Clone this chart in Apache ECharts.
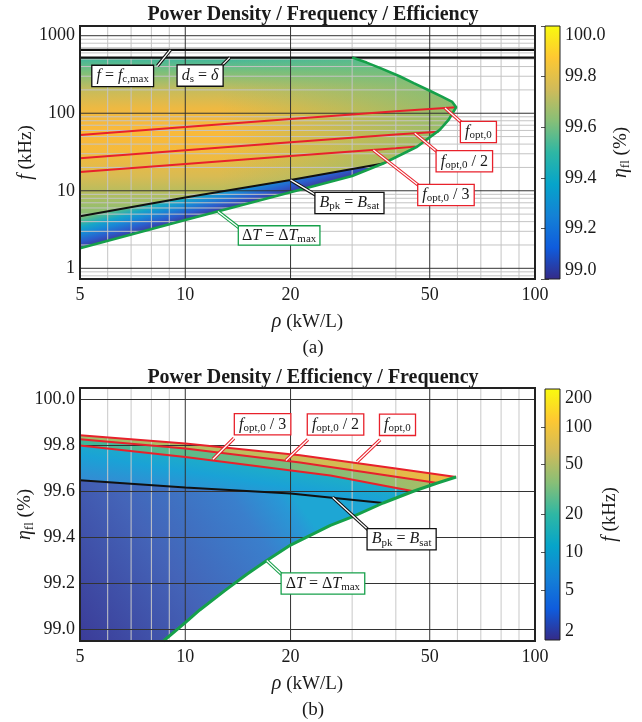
<!DOCTYPE html>
<html>
<head>
<meta charset="utf-8">
<title>Power Density / Frequency / Efficiency</title>
<script src="https://cdn.jsdelivr.net/npm/echarts@6/dist/echarts.min.js"></script>
<style>
  html, body { margin: 0; background: #fff; }
  #chart { width: 642px; height: 722px; }
</style>
</head>
<body>
<div id="chart"></div>
<script>
// ---------- axes ----------
var rhoMin = 5, rhoMax = 100;
var rhoLabels = [5, 10, 20, 50, 100];
var rhoMajor = [10, 20, 50];
var rhoMinor = [6, 7, 8, 9, 30, 40, 60, 70, 80, 90];

var fMin = 0.728, fMax = 1334;
var fLabels = [1, 10, 100, 1000];
var fMajor = [1, 10, 100, 1000];
var fMinor = [0.8, 0.9, 2, 3, 4, 5, 6, 7, 8, 9, 20, 30, 40, 50, 60, 70, 80, 90,
              200, 300, 400, 500, 600, 700, 800, 900];

var etaMin = 98.95, etaMax = 100.05;
var etaLabels = [99.0, 99.2, 99.4, 99.6, 99.8, 100.0];

var cbEtaMin = 99, cbEtaMax = 100;
var cbFMin = 2, cbFMax = 200;
var cbFLabels = [2, 5, 10, 20, 50, 100, 200];
var cbFTicks = [5, 10, 20, 50, 100];

// ---------- (a) rho [kW/L] vs f [kHz] ----------
var topFcMax = [[5, 656], [100, 656]];
var topDs = [[5, 522], [100, 522]];
var topFopt = [[5, 52.5], [10, 66.5], [20, 84.4], [40, 106], [59.5, 119.5]];
var topFopt2 = [[5, 26.3], [10, 33.3], [20, 42.2], [40, 53], [53, 57.9]];
var topFopt3 = [[5, 17.5], [10, 22.2], [20, 28.1], [40, 35.3], [45.4, 37.1]];
var topBpk = [[5, 4.7], [10, 8.2], [20, 13.8], [36.8, 22.5]];
var topUpper = [[30, 522], [33, 450], [36, 385], [41, 300], [45, 245], [50, 195], [54, 165], [58, 140], [59.5, 119.5]];
var topLower = [[5, 1.81], [10, 4.2], [20, 9.6], [26, 13.1], [30, 15.5], [36.8, 22.5], [46, 37], [53.4, 61], [56.6, 82], [59.5, 119.5]];

// ---------- (b) rho [kW/L] vs eta [%] ----------
var botFopt = [[5, 99.845], [10, 99.809], [21.3, 99.758], [40, 99.70], [59.5, 99.663]];
var botFopt2 = [[5, 99.827], [10, 99.787], [21.3, 99.726], [40, 99.664], [52.6, 99.637]];
var botFopt3 = [[5, 99.80], [10, 99.75], [26, 99.67], [44.9, 99.601]];
var botBpk = [[5, 99.649], [10, 99.617], [20, 99.591], [36.8, 99.55]];
var botLower = [[8.66, 98.95], [10, 99.03], [11, 99.085], [13, 99.17], [15, 99.24], [17.1, 99.30], [20, 99.367],
                [26, 99.453], [30, 99.49], [36.8, 99.55], [44.9, 99.601], [52.6, 99.637], [59.5, 99.663]];

var serif = "'Liberation Serif', 'Times New Roman', serif";
var INK = '#1a1a1a', RED = '#e8212b', GREEN = '#16a04a', BLACK = '#111';

var parula = [
  { offset: 0, color: '#352a87' }, { offset: 0.125, color: '#0f5cdd' },
  { offset: 0.25, color: '#1481d6' }, { offset: 0.375, color: '#06a4ca' },
  { offset: 0.5, color: '#2eb7a4' }, { offset: 0.625, color: '#87bf77' },
  { offset: 0.75, color: '#d1bb59' }, { offset: 0.875, color: '#fec832' },
  { offset: 1, color: '#f9fb0e' }
];

function stops(list) {
  return list.map(function (s) { return { offset: s[0], color: s[1] }; });
}
function linGrad(api, p0, p1, st) {
  var a = api.coord(p0), b = api.coord(p1);
  return new echarts.graphic.LinearGradient(a[0], a[1], b[0], b[1], stops(st), true);
}
function rev(a) { return a.slice().reverse(); }
function upTo(a, x) { return a.filter(function (p) { return p[0] <= x + 1e-9; }); }
function from(a, x) { return a.filter(function (p) { return p[0] >= x - 1e-9; }); }

// polygons built from the curves
var bpkEndTop = topBpk[topBpk.length - 1][0];
var topBandU = [[rhoMin, topUpper[0][1]]].concat(topUpper, rev(from(topLower, bpkEndTop)), rev(topBpk));
var topBandL = topBpk.concat(rev(upTo(topLower, bpkEndTop)));
var topGreen = topUpper.concat(rev(topLower));

var botBandA = botFopt.concat(rev(botFopt2));
var botBandB = botFopt2.concat(rev(botFopt3));
var botBandC = botFopt3.concat([botBpk[botBpk.length - 1]], rev(botBpk));
var botBandD = botBpk.concat(rev(upTo(botLower, botBpk[botBpk.length - 1][0])), [[rhoMin, etaMin]]);

var noteRich = {
  i: { fontFamily: serif, fontStyle: 'italic', fontSize: 16, fill: INK },
  s: { fontFamily: serif, fontSize: 11, fill: INK, padding: [7, 0, 0, 0] }
};
var axisRich = {
  i: { fontFamily: serif, fontStyle: 'italic', fontSize: 20, color: INK },
  s: { fontFamily: serif, fontSize: 13, color: INK, padding: [9, 0, 0, 0] }
};

var topNotes = [
  { at: [9.07, 656], box: [-78, 16], lead: [-13, 16], color: BLACK, text: '{i|f} = {i|f}{s|c,max}' },
  { at: [13.4, 522], box: [-52, 8], lead: [-8, 8], color: BLACK, text: '{i|d}{s|s} = {i|δ}' },
  { at: [20, 13.8], box: [25, 13], lead: [25, 15], color: BLACK, text: '{i|B}{s|pk} = {i|B}{s|sat}' },
  { at: [12.4, 5.42], box: [21, 15], lead: [22, 17], color: GREEN, pad: [0, 3, 0, 3], text: 'Δ{i|T} = Δ{i|T}{s|max}' },
  { at: [55.3, 116.9], box: [16, 14], lead: [17, 15], color: RED, text: '{i|f}{s|opt,0}' },
  { at: [45.3, 55.1], box: [22, 18], lead: [23, 19], color: RED, text: '{i|f}{s|opt,0} / 2' },
  { at: [34.5, 33.6], box: [45, 35], lead: [46, 36], color: RED, text: '{i|f}{s|opt,0} / 3' }
];
var botNotes = [
  { at: [12, 99.74], box: [22, -45], lead: [21, -21], color: RED, text: '{i|f}{s|opt,0} / 3' },
  { at: [19.4, 99.735], box: [22, -46], lead: [22, -21], color: RED, text: '{i|f}{s|opt,0} / 2' },
  { at: [31, 99.729], box: [23, -47], lead: [23, -22], color: RED, text: '{i|f}{s|opt,0}' },
  { at: [26.4, 99.575], box: [35, 32], lead: [36, 33], color: BLACK, text: '{i|B}{s|pk} = {i|B}{s|sat}' },
  { at: [17.1, 99.30], box: [15, 13], lead: [15, 14], color: GREEN, text: 'Δ{i|T} = Δ{i|T}{s|max}' }
];

// ---------- series helpers ----------
function fillSeries(idx, pts, grad) {
  return {
    type: 'custom', xAxisIndex: idx, yAxisIndex: idx, z: 1, silent: true,
    data: [pts[0]],
    renderItem: function (params, api) {
      return {
        type: 'polygon',
        shape: { points: pts.map(function (p) { return api.coord(p); }) },
        style: { fill: grad(api), stroke: null }
      };
    }
  };
}
function gridLines(idx, values, dir, color, width) {
  return {
    type: 'custom', xAxisIndex: idx, yAxisIndex: idx, z: 3, silent: true,
    data: values.map(function (v) { return [v, v]; }),
    renderItem: function (params, api) {
      var cs = params.coordSys;
      var p = api.coord([api.value(0), api.value(1)]);
      var shape = dir === 'x'
        ? { x1: p[0], y1: cs.y, x2: p[0], y2: cs.y + cs.height }
        : { x1: cs.x, y1: p[1], x2: cs.x + cs.width, y2: p[1] };
      return { type: 'line', shape: shape, style: { stroke: color, lineWidth: width } };
    }
  };
}
function frame(idx, width, fillGrad) {
  return {
    type: 'custom', xAxisIndex: idx, yAxisIndex: idx, z: fillGrad ? 2 : 7, silent: true,
    data: [[0, 0]],
    renderItem: function (params, api) {
      var cs = params.coordSys;
      return {
        type: 'rect',
        shape: { x: cs.x, y: cs.y, width: cs.width, height: cs.height },
        style: {
          fill: fillGrad ? new echarts.graphic.LinearGradient(0, 1, 0, 0, parula) : null,
          stroke: '#222', lineWidth: width
        }
      };
    }
  };
}
function curve(idx, data, color, width) {
  return {
    type: 'line', xAxisIndex: idx, yAxisIndex: idx, data: data, z: 5, silent: true,
    showSymbol: false, symbol: 'none', lineStyle: { color: color, width: width }
  };
}
function notes(idx, list) {
  return {
    type: 'custom', xAxisIndex: idx, yAxisIndex: idx, z: 8, silent: true,
    data: list.map(function (n) { return n.at; }),
    renderItem: function (params, api) {
      var n = list[params.dataIndex];
      var p = api.coord([api.value(0), api.value(1)]);
      var q = [p[0] + n.lead[0], p[1] + n.lead[1]];
      var seg = { x1: p[0], y1: p[1], x2: q[0], y2: q[1] };
      return {
        type: 'group',
        children: [
          { type: 'line', shape: seg, style: { stroke: n.color, lineWidth: 3.4 } },
          { type: 'line', shape: seg, style: { stroke: '#fff', lineWidth: 1.3 } },
          {
            type: 'text', x: p[0] + n.box[0], y: p[1] + n.box[1],
            style: {
              text: n.text, rich: noteRich, fontFamily: serif, fontSize: 16, fill: INK,
              backgroundColor: '#fff', borderColor: n.color, borderWidth: 1.3,
              padding: n.pad || [1, 4, 1, 4], align: 'left', verticalAlign: 'top'
            }
          }
        ]
      };
    }
  };
}

// ---------- axes ----------
var labelStyle = { fontFamily: serif, fontSize: 18, color: INK };
var nameStyle = { fontFamily: serif, fontSize: 19, color: INK, rich: axisRich };
function mainX(g) {
  return {
    gridIndex: g, type: 'log', logBase: 10, min: rhoMin, max: rhoMax,
    name: '{i|ρ} (kW/L)', nameLocation: 'middle', nameGap: 33, nameTextStyle: nameStyle,
    axisLine: { show: false }, axisTick: { show: false }, splitLine: { show: false },
    axisLabel: Object.assign({ customValues: rhoLabels, margin: 7, formatter: String }, labelStyle)
  };
}
function hiddenX(g) { return { gridIndex: g, type: 'value', min: 0, max: 1, show: false }; }
function plain(extra) {
  return Object.assign({ axisLine: { show: false }, splitLine: { show: false } }, extra);
}
var cbTick = { inside: true, length: 4, lineStyle: { color: '#555', width: 1 } };
var fixed1 = function (v) { return v.toFixed(1); };
var capStyle = { fontFamily: serif, fontSize: 19, fontWeight: 'normal', color: INK };
var headStyle = { fontFamily: serif, fontSize: 20, fontWeight: 'bold', color: INK };

var option = {
  animation: false,
  backgroundColor: '#fff',
  title: [
    { text: 'Power Density / Frequency / Efficiency', left: 308, top: 0, textAlign: 'center', textStyle: headStyle },
    { text: '(a)', left: 308, top: 334, textAlign: 'center', textStyle: capStyle },
    { text: 'Power Density / Efficiency / Frequency', left: 308, top: 363, textAlign: 'center', textStyle: headStyle },
    { text: '(b)', left: 308, top: 696, textAlign: 'center', textStyle: capStyle }
  ],
  grid: [
    { left: 80, top: 26, width: 455, height: 253, outerBoundsMode: 'none' },
    { left: 545, top: 26, width: 15, height: 253, outerBoundsMode: 'none' },
    { left: 80, top: 388, width: 455, height: 253, outerBoundsMode: 'none' },
    { left: 545, top: 389, width: 15, height: 251, outerBoundsMode: 'none' }
  ],
  xAxis: [mainX(0), hiddenX(1), mainX(2), hiddenX(3)],
  yAxis: [
    plain({
      gridIndex: 0, type: 'log', logBase: 10, min: fMin, max: fMax,
      name: '{i|f} (kHz)', nameLocation: 'middle', nameGap: 44, nameRotate: 90, nameTextStyle: nameStyle,
      nameMoveOverlap: false,
      axisTick: { show: false },
      axisLabel: Object.assign({ customValues: fLabels, margin: 5, formatter: String }, labelStyle)
    }),
    plain({
      gridIndex: 1, type: 'value', position: 'right', min: cbEtaMin, max: cbEtaMax, interval: 0.2,
      name: '{i|η}{s|fl} (%)', nameLocation: 'middle', nameGap: 50, nameRotate: 90, nameTextStyle: nameStyle,
      axisTick: cbTick,
      axisLabel: Object.assign({ formatter: fixed1, margin: 5,
        verticalAlignMaxLabel: 'top', verticalAlignMinLabel: 'bottom' }, labelStyle)
    }),
    plain({
      gridIndex: 2, type: 'value', min: etaMin, max: etaMax,
      name: '{i|η}{s|fl} (%)', nameLocation: 'middle', nameGap: 44, nameRotate: 90, nameTextStyle: nameStyle,
      nameMoveOverlap: false,
      axisTick: { show: false },
      axisLabel: Object.assign({ customValues: etaLabels, formatter: fixed1, margin: 5 }, labelStyle)
    }),
    plain({
      gridIndex: 3, type: 'log', logBase: 10, position: 'right', min: cbFMin, max: cbFMax,
      name: '{i|f} (kHz)', nameLocation: 'middle', nameGap: 40, nameRotate: 90, nameTextStyle: nameStyle,
      axisTick: Object.assign({ customValues: cbFTicks }, cbTick),
      axisLabel: Object.assign({ customValues: cbFLabels, margin: 5, formatter: String,
        verticalAlignMaxLabel: 'top', verticalAlignMinLabel: 'bottom' }, labelStyle)
    }),
    plain({ gridIndex: 1, type: 'value', position: 'left', min: cbEtaMin, max: cbEtaMax, interval: 0.2,
      axisTick: cbTick, axisLabel: { show: false } }),
    plain({ gridIndex: 3, type: 'log', logBase: 10, position: 'left', min: cbFMin, max: cbFMax,
      axisTick: Object.assign({ customValues: cbFTicks }, cbTick), axisLabel: { show: false } })
  ],
  series: [
    // ---- (a) ----
    fillSeries(0, topBandU, function (api) {
      return linGrad(api, [rhoMin, 522], [rhoMin, 4.7], [
        [0, '#3db79e'], [0.09, '#7cbf7b'], [0.2, '#c4bc5d'], [0.32, '#eeb942'], [0.46, '#fab93a'],
        [0.6, '#f4ba3c'], [0.75, '#d8bb53'], [0.88, '#acbd62'], [1, '#86bf76']]);
    }),
    fillSeries(0, topBandU, function (api) {
      return linGrad(api, [12.5, 100], [59.5, 100], [
        [0, 'rgba(110,190,128,0)'], [1, 'rgba(110,190,128,0.72)']]);
    }),
    fillSeries(0, topBandL, function (api) {
      var a = api.coord(topLower[0]), c = api.coord(topLower[2]), q = api.coord(topBpk[0]);
      var dx = c[0] - a[0], dy = c[1] - a[1], len = Math.sqrt(dx * dx + dy * dy);
      var nx = dy / len, ny = -dx / len;
      var d = (q[0] - a[0]) * nx + (q[1] - a[1]) * ny;
      return new echarts.graphic.LinearGradient(a[0], a[1], a[0] + nx * d, a[1] + ny * d, stops([
        [0, '#3d3d9e'], [0.2, '#2b5ccc'], [0.45, '#1889d6'], [0.65, '#17a6c7'],
        [0.85, '#4bb894'], [1, '#8abf72']]), true);
    }),
    gridLines(0, rhoMinor, 'x', '#c4c4c4', 1),
    gridLines(0, fMinor, 'y', '#c4c4c4', 1),
    gridLines(0, rhoMajor, 'x', '#333', 1),
    gridLines(0, fMajor, 'y', '#333', 1),
    curve(0, topFcMax, BLACK, 2.4),
    curve(0, topDs, BLACK, 2.4),
    curve(0, topFopt, RED, 2),
    curve(0, topFopt2, RED, 2),
    curve(0, topFopt3, RED, 2),
    curve(0, topBpk, BLACK, 2),
    curve(0, topGreen, GREEN, 2.6),
    frame(0, 2),
    notes(0, topNotes),
    frame(1, 1, true),

    // ---- (b) ----
    fillSeries(2, botBandA, function (api) {
      return linGrad(api, [rhoMin, 99.84], [59.5, 99.66], [[0, '#98be6c'], [0.5, '#c4bc5c'], [1, '#f0ba42']]);
    }),
    fillSeries(2, botBandB, function (api) {
      return linGrad(api, [rhoMin, 99.81], [52.6, 99.63], [[0, '#3cb89b'], [1, '#a8be66']]);
    }),
    fillSeries(2, botBandC, function (api) {
      return linGrad(api, [rhoMin, 99.628], [5.25, 99.84], [[0, '#3a86d2'], [0.6, '#1aa2d6'], [1, '#1eb0c4']]);
    }),
    fillSeries(2, botBandD, function (api) {
      return linGrad(api, [rhoMin, etaMin], [20, 99.6], [
        [0, '#3b3c98'], [0.45, '#4464b8'], [0.8, '#3a7fcc'], [0.95, '#2898d6'], [1, '#1ea6d4']]);
    }),
    gridLines(2, rhoMinor, 'x', '#c8c8c8', 1),
    gridLines(2, rhoMajor, 'x', '#333', 1),
    gridLines(2, etaLabels, 'y', '#333', 1),
    curve(2, botFopt, RED, 2),
    curve(2, botFopt2, RED, 2),
    curve(2, botFopt3, RED, 2),
    curve(2, botBpk, BLACK, 2),
    curve(2, botLower, GREEN, 3),
    frame(2, 2),
    notes(2, botNotes),
    frame(3, 1, true)
  ]
};

var chart = echarts.init(document.getElementById('chart'));
chart.setOption(option);
</script>
</body>
</html>
